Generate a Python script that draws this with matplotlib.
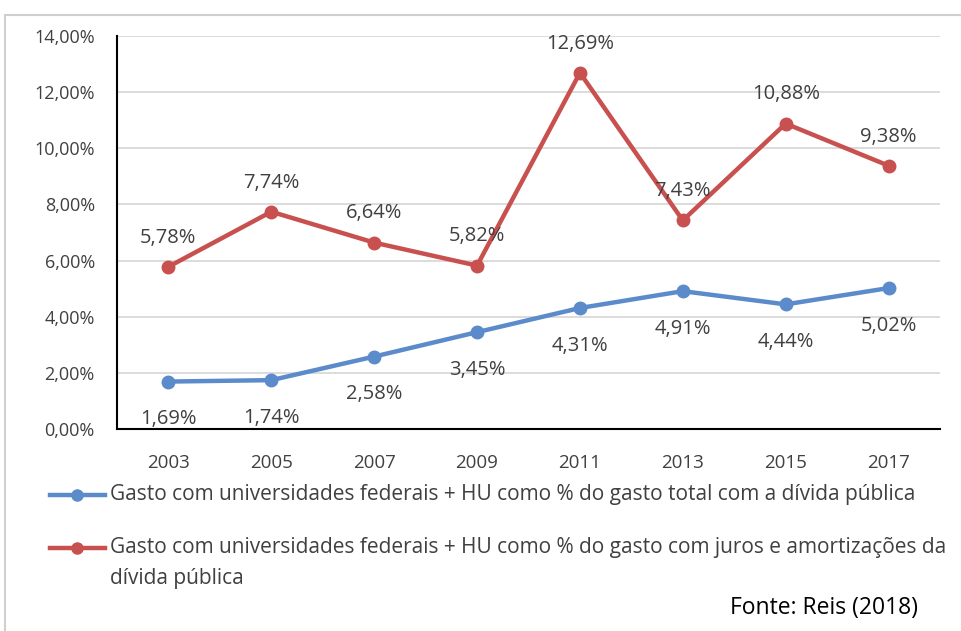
import matplotlib
matplotlib.use("Agg")
import matplotlib.pyplot as plt
from matplotlib.lines import Line2D
from matplotlib.patches import Rectangle

years = ["2003", "2005", "2007", "2009", "2011", "2013", "2015", "2017"]
total_divida = [1.69, 1.74, 2.58, 3.45, 4.31, 4.91, 4.44, 5.02]
juros_amort = [5.78, 7.74, 6.64, 5.82, 12.69, 7.43, 10.88, 9.38]
yticks = [0, 2, 4, 6, 8, 10, 12, 14]
legend_labels = [
    "Gasto com universidades federais + HU como % do gasto total com a dívida pública",
    "Gasto com universidades federais + HU como % do gasto com juros e amortizações da\ndívida pública",
]
source = "Fonte: Reis (2018)"

plt.rcParams['font.family'] = ['Open Sans', 'DejaVu Sans']

BLUE = "#5B8BCB"
RED = "#C8504F"
TXT = "#404040"

W, H = 962, 631
fig = plt.figure(figsize=(W / 100, H / 100), dpi=100)
fig.patches.append(Rectangle((5 / W, -0.1), 1.2, 1 - 15 / H + 0.1, transform=fig.transFigure,
                             facecolor="none", edgecolor="#d0d0d0", linewidth=1.5, zorder=-1))

ax = fig.add_axes([117 / W, 1 - 429 / H, (940 - 117) / W, (429 - 36) / H])
ax.set_facecolor("none")
x = list(range(len(years)))
ax.plot(x, total_divida, color=BLUE, lw=3.2, marker="o", ms=9, zorder=3)
ax.plot(x, juros_amort, color=RED, lw=3.2, marker="o", ms=9, zorder=3)

for xi, v in zip(x, total_divida):
    ax.annotate(f"{v:.2f}%".replace(".", ","), (xi, v), xytext=(0, -27), textcoords="offset points",
                ha="center", va="center", fontsize=14.5, color=TXT, zorder=4)
for xi, v in zip(x, juros_amort):
    ax.annotate(f"{v:.2f}%".replace(".", ","), (xi, v), xytext=(0, 21), textcoords="offset points",
                ha="center", va="center", fontsize=14.5, color=TXT, zorder=4)

ax.set_xlim(-0.5, len(years) - 0.5)
ax.set_ylim(0, 14)
ax.set_yticks(yticks)
ax.set_yticklabels([f"{t:.2f}%".replace(".", ",") for t in yticks], fontsize=13, color=TXT)
ax.set_xticks(x)
ax.set_xticklabels(years, fontsize=13.5, color=TXT)
ax.tick_params(axis="y", length=0, pad=16)
ax.tick_params(axis="x", length=0, pad=18)
ax.grid(axis="y", color="#d9d9d9", lw=1.3, zorder=0)
for s in ["top", "right"]:
    ax.spines[s].set_visible(False)
for s in ["left", "bottom"]:
    ax.spines[s].set_color("black")
    ax.spines[s].set_linewidth(1.5)

# legend
for ypix, col, lab in [(495, BLUE, legend_labels[0]), (548, RED, legend_labels[1])]:
    yf = 1 - ypix / H
    fig.add_artist(Line2D([50 / W, 105 / W], [yf, yf], color=col, lw=3.2, transform=fig.transFigure))
    fig.add_artist(Line2D([77 / W], [yf], color=col, marker="o", ms=8, transform=fig.transFigure))
    fig.text(110 / W, yf + 0.017, lab, ha="left", va="top", fontsize=15, color=TXT, linespacing=1.6)

fig.text(918 / W, 1 - 608 / H, source, ha="right", va="center", fontsize=16.5, color="black")

fig.savefig("out.png", dpi=100)
